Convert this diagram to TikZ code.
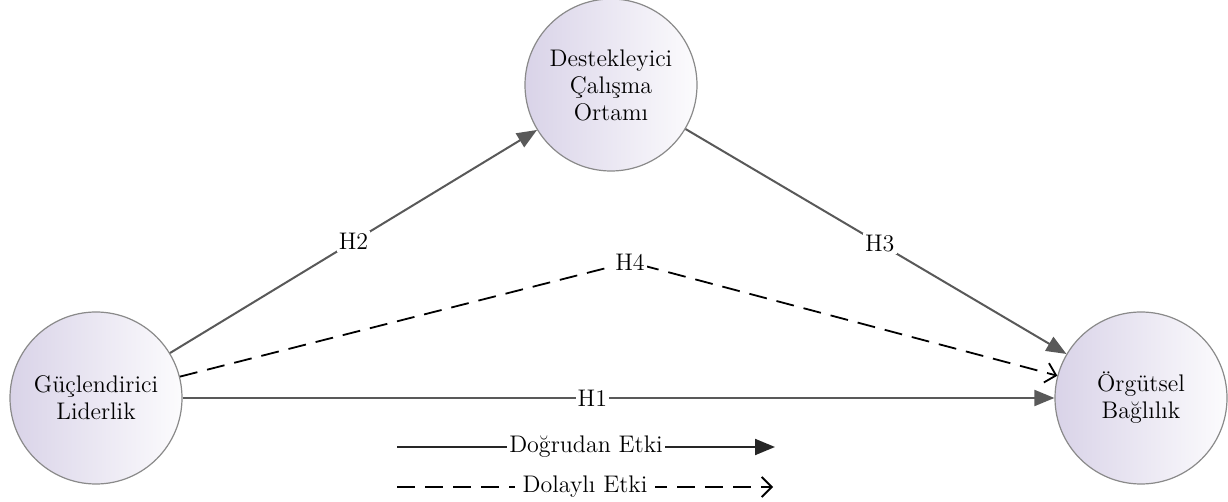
\documentclass[tikz,border=0pt]{standalone}
\usetikzlibrary{arrows.meta}
\definecolor{lavender}{HTML}{D9D3E8}
\definecolor{rimgray}{HTML}{8A8A8A}
\definecolor{linegray}{HTML}{595959}
\begin{document}
\begin{tikzpicture}[
    x=0.5pt, y=-0.5pt,
    font=\fontsize{12}{13.5}\selectfont,
    construct/.style={draw=rimgray, line width=0.6pt, circle, align=center, inner sep=0pt, minimum size=86pt, left color=lavender, right color=white!92!lavender},
    line/.style={draw=linegray, line width=1pt, -{Triangle[length=10pt,width=8pt]}},
    dline/.style={draw=black, line width=0.9pt, dash pattern=on 9pt off 5pt, -{Straight Barb[length=5pt,width=10pt]}},
    lbl/.style={fill=white, inner sep=1pt}
]
\useasboundingbox (0,0) rectangle (1228,502);

\node[construct] (lider) at (96,398) {Güçlendirici\\Liderlik};
\node[construct] (destek) at (611,85) {Destekleyici\\Çalışma\\Ortamı};
\node[construct] (orgut) at (1141,398) {Örgütsel\\Bağlılık};
\coordinate (peak) at (630,262);

\draw[line] (lider) -- node[lbl, pos=0.47] {H1} (orgut);
\draw[line] (lider) -- node[lbl, pos=0.5] {H2} (destek);
\draw[line] (destek) -- node[lbl, pos=0.51] {H3} (orgut);
\draw[dline] (lider) -- (peak) node[lbl] {H4} -- (orgut);

% legend
\coordinate (solidA) at (397,447);
\coordinate (solidB) at (775,447);
\coordinate (dashA) at (397,487);
\coordinate (dashB) at (773,487);
\draw[line, draw=black!85] (solidA) -- node[lbl] {Doğrudan Etki} (solidB);
\draw[dline] (dashA) -- node[lbl, inner xsep=4pt] {Dolaylı Etki} (dashB);

\end{tikzpicture}
\end{document}
